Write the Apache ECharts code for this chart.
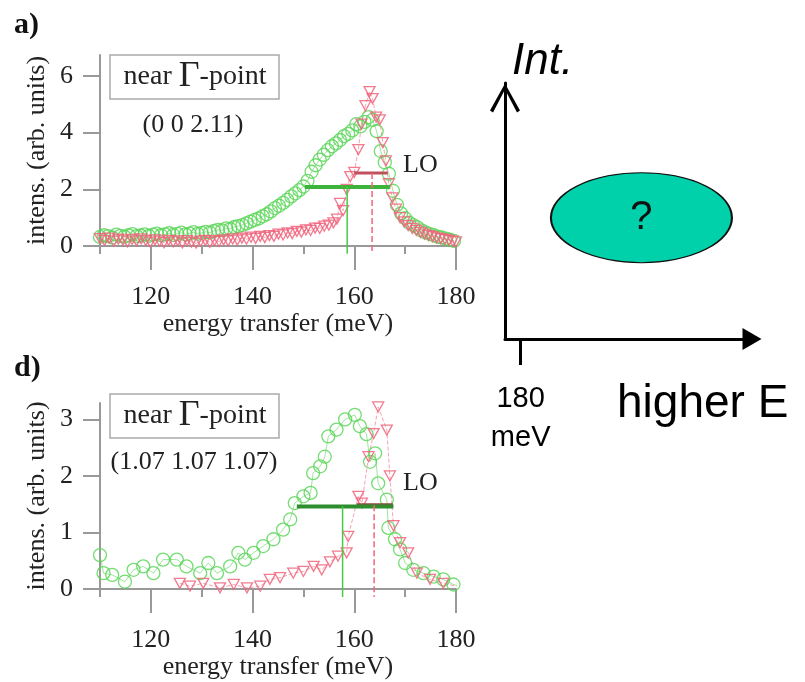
<!DOCTYPE html>
<html>
<head>
<meta charset="utf-8">
<script src="https://cdn.jsdelivr.net/npm/echarts@6/dist/echarts.min.js"></script>
<style>
  html, body { margin: 0; padding: 0; background: #fff; }
  #main { width: 805px; height: 682px; }
</style>
</head>
<body>
<div id="main"></div>
<script>
// panel a) near Gamma (0 0 2.11)
var energyGreenA = [110,110.8,111.6,112.4,113.2,114,114.8,115.6,116.4,117.2,118,118.8,119.6,120.4,121.2,122,122.8,123.6,124.4,125.2,126,126.8,127.6,128.4,129.2,130,130.8,131.6,132.4,133.2,134,134.8,135.6,136.4,137.2,138,138.8,139.6,140.4,141.2,142,142.8,143.6,144.4,145.2,146,146.8,147.6,148.4,149.2,150,150.8,151.6,152.4,153.2,154,154.8,155.6,156.4,157.2,158,158.8,159.6,160.4,161.2,162,162.8,163.6,164.4,165.2,166,166.8,167.6,168.4,169.2,170,170.8,171.6,172.4,173.2,174,174.8,175.6,176.4,177.2,178,178.8,179.6];
var intensGreenA = [0.32,0.38,0.35,0.30,0.40,0.36,0.33,0.38,0.42,0.35,0.37,0.41,0.36,0.40,0.44,0.38,0.41,0.45,0.39,0.43,0.47,0.41,0.44,0.49,0.43,0.46,0.50,0.47,0.53,0.57,0.55,0.62,0.60,0.67,0.70,0.74,0.80,0.86,0.92,0.97,1.05,1.12,1.22,1.34,1.42,1.52,1.63,1.75,1.86,1.97,2.10,2.30,2.62,2.85,3.05,3.22,3.38,3.52,3.62,3.74,3.88,3.96,4.08,4.30,4.22,4.38,4.55,4.45,4.05,3.35,2.95,2.55,1.95,1.45,1.15,0.98,0.82,0.74,0.66,0.55,0.48,0.43,0.38,0.33,0.30,0.26,0.22,0.18];
var energyRedA = [110,110.9,111.8,112.7,113.6,114.5,115.4,116.3,117.2,118.1,119,119.9,120.8,121.7,122.6,123.5,124.4,125.3,126.2,127.1,128,128.9,129.8,130.7,131.6,132.5,133.4,134.3,135.2,136.1,137,137.9,138.8,139.7,140.6,141.5,142.4,143.3,144.2,145.1,146,146.9,147.8,148.7,149.6,150.5,151.4,152.3,153.2,154.1,155,155.9,156.6,157.2,157.8,158.5,159.2,160,160.8,161.4,162.2,163,163.6,164.3,165,165.6,166.2,166.8,167.5,168.2,169,169.8,170.6,171.4,172.2,173,173.8,174.6,175.4,176.2,177,177.8,178.6,179.4,180];
var intensRedA = [0.26,0.20,0.28,0.17,0.24,0.21,0.15,0.23,0.18,0.25,0.19,0.14,0.22,0.17,0.12,0.20,0.15,0.18,0.11,0.19,0.14,0.10,0.17,0.20,0.13,0.19,0.16,0.22,0.18,0.25,0.21,0.28,0.24,0.31,0.27,0.34,0.30,0.37,0.34,0.42,0.39,0.46,0.44,0.52,0.49,0.57,0.55,0.63,0.62,0.70,0.74,0.82,0.95,1.50,1.25,2.00,2.45,2.60,3.40,4.30,4.95,5.45,5.20,4.55,4.45,3.65,3.00,2.20,1.70,1.30,1.00,0.85,0.72,0.62,0.55,0.48,0.42,0.37,0.33,0.29,0.26,0.23,0.20,0.17,0.15];

// panel d) near Gamma (1.07 1.07 1.07)
var energyGreenD = [110,110.7,112.4,114.9,116.6,118.5,120.5,122.4,125.1,127,129.7,131.3,133,135.6,137.2,138.5,140.2,142.1,144.1,146,147.4,148.3,150,151.4,151.9,153.3,154.2,154.9,156.5,158.2,160.1,161.1,162.4,163.1,164.1,164.7,166.4,166.7,168,169,170,171.6,173.6,175.6,177.5,179.5,180.9];
var intensGreenD = [0.60,0.28,0.25,0.13,0.34,0.40,0.28,0.52,0.52,0.40,0.28,0.46,0.28,0.40,0.64,0.52,0.64,0.76,0.88,1.05,1.23,1.52,1.64,1.70,2.05,2.17,2.34,2.70,2.82,3.00,3.08,2.88,2.74,2.25,2.40,1.87,1.58,1.08,0.88,0.70,0.46,0.34,0.28,0.22,0.17,0.08,0.05];
var energyRedD = [125.7,127.7,130.3,133.6,136.3,138.9,141.5,143.4,145.4,148,150,152,153.6,155.2,156.8,158.5,158.8,160.8,161.5,162.8,163.8,164.7,166.4,167,167.7,169,170.6,172.3,174.9,177.5,180.1];
var intensRedD = [0.10,0.05,0.10,0.02,0.08,0.02,0.05,0.17,0.20,0.28,0.31,0.40,0.34,0.48,0.58,0.64,0.93,1.64,1.52,2.34,2.75,3.22,2.81,2.00,1.12,0.82,0.64,0.28,0.17,0.10,0.05];

// half-maximum bars and peak positions
var fwhmGreenA = [150.3, 167.0], halfGreenA = 2.08, peakGreenA = 158.6;
var fwhmRedA = [160.0, 166.6], halfRedA = 2.58, peakRedA = 163.5;
var fwhmGreenD = [148.7, 167.7], halfGreenD = 1.46, peakGreenD = 157.7;
var fwhmRedD = [160.5, 167.6], halfRedD = 1.48, peakRedD = 163.9;
var axisFootA = -0.27, axisFootD = -0.14;

// tick labels
var xLabels = [120, 140, 160, 180];
var yLabelsA = [0, 2, 4, 6];
var yLabelsD = [0, 1, 2, 3];

// schematic: the unknown mode above 180 meV
var schemeEnergy = [195.4];
var schemeInt = [0.474];
var schemeTick = [180];

var serif = 'Liberation Serif';
var sans = 'Liberation Sans';
var green = '#5cd65a';
var red = '#f0647c';

function zip(xs, ys) {
  return xs.map(function (x, i) { return [x, ys[i]]; });
}

var chart = echarts.init(document.getElementById('main'));

function mainX(grid) {
  return {
    type: 'value', gridIndex: grid, position: 'bottom', min: 110, max: 180, interval: 10, offset: 8,
    axisLine: { lineStyle: { color: '#999', width: 2 } },
    axisTick: { length: 8, lineStyle: { color: '#999', width: 2 } },
    axisLabel: { customValues: xLabels, margin: 30, fontFamily: serif, fontSize: 26, color: '#222' },
    splitLine: { show: false },
    name: 'energy transfer (meV)', nameLocation: 'middle', nameGap: 54,
    nameTextStyle: { fontFamily: serif, fontSize: 26, color: '#222' }
  };
}
// longer ticks under the labelled values
function tickX(grid) {
  return {
    type: 'value', gridIndex: grid, position: 'bottom', min: 110, max: 180, interval: 10, offset: 8,
    axisLine: { show: false },
    axisTick: { customValues: xLabels, length: 16, lineStyle: { color: '#999', width: 2 } },
    axisLabel: { show: false },
    splitLine: { show: false }
  };
}
function mainY(grid, max, labels) {
  return {
    type: 'value', gridIndex: grid, min: 0, max: max,
    axisLine: { show: true, lineStyle: { color: '#999', width: 2 } },
    axisTick: { show: true, customValues: labels, length: 17, lineStyle: { color: '#999', width: 2 } },
    axisLabel: { customValues: labels, margin: 27, fontFamily: serif, fontSize: 26, color: '#222' },
    splitLine: { show: false },
    name: 'intens. (arb. units)', nameLocation: 'middle', nameGap: 50,
    nameTextStyle: { fontFamily: serif, fontSize: 26, color: '#222' }
  };
}

function dataSeries(xi, yi, data, color, symbol, size, dashed) {
  return {
    type: 'line', xAxisIndex: xi, yAxisIndex: yi, data: data,
    symbol: symbol, symbolSize: size, silent: true, animation: false,
    itemStyle: { color: 'rgba(0,0,0,0)', borderColor: color, borderWidth: 1.3, opacity: 0.85 },
    lineStyle: { color: color, width: 1, opacity: 0.6, type: dashed ? 'dashed' : 'solid' }
  };
}
function segSeries(xi, yi, data, color, width, dashed) {
  return {
    type: 'line', xAxisIndex: xi, yAxisIndex: yi, data: data, symbol: 'none',
    clip: false, silent: true, animation: false, z: 5,
    lineStyle: { color: color, width: width, type: dashed ? 'dashed' : 'solid' }
  };
}

var downTri = 'path://M0,0 L10,0 L5,9 Z';
var chevron = 'path://M0,27 L15,0 L30,27 L27,29 L15,6 L3,29 Z';

var option = {
  backgroundColor: '#fff',
  animation: false,
  grid: [
    { left: 100, right: 349, top: 55, bottom: 436 },
    { left: 100, right: 349, top: 403, bottom: 93 },
    { left: 505, right: 53, top: 83, bottom: 343 }
  ],
  xAxis: [
    mainX(0), tickX(0), mainX(1), tickX(1),
    {
      type: 'value', gridIndex: 2, min: 178, max: 209.5,
      axisLine: { symbol: ['none', 'triangle'], symbolSize: [22, 19], lineStyle: { color: '#000', width: 3 } },
      axisTick: { customValues: schemeTick, length: 26, lineStyle: { color: '#000', width: 3 } },
      axisLabel: {
        customValues: schemeTick, margin: 40, fontFamily: sans, fontSize: 29, lineHeight: 39, color: '#000',
        formatter: function (v) { return v + '\nmeV'; }
      },
      splitLine: { show: false }
    }
  ],
  yAxis: [
    mainY(0, 6.74, yLabelsA),
    mainY(1, 3.29, yLabelsD),
    {
      type: 'value', gridIndex: 2, min: 0, max: 1,
      axisLine: { show: true, symbol: ['none', chevron], symbolSize: [30, 30], symbolOffset: [0, -15], lineStyle: { color: '#000', width: 3 } },
      axisTick: { show: false }, axisLabel: { show: false }, splitLine: { show: false }
    }
  ],
  series: [
    dataSeries(0, 0, zip(energyGreenA, intensGreenA), green, 'circle', 13, false),
    dataSeries(0, 0, zip(energyRedA, intensRedA), red, downTri, [11, 10], true),
    segSeries(0, 0, [[fwhmRedA[0], halfRedA], [fwhmRedA[1], halfRedA]], '#c0505e', 3, false),
    segSeries(0, 0, [[fwhmGreenA[0], halfGreenA], [fwhmGreenA[1], halfGreenA]], '#3cb43c', 4, false),
    segSeries(0, 0, [[peakGreenA, halfGreenA], [peakGreenA, axisFootA]], '#44cc44', 1.5, false),
    segSeries(0, 0, [[peakRedA, halfRedA], [peakRedA, axisFootA]], '#f0647c', 1.5, true),

    dataSeries(2, 1, zip(energyGreenD, intensGreenD), green, 'circle', 13, false),
    dataSeries(2, 1, zip(energyRedD, intensRedD), red, downTri, [11, 10], true),
    segSeries(2, 1, [[fwhmRedD[0], halfRedD], [fwhmRedD[1], halfRedD]], '#8a4a3a', 4, false),
    segSeries(2, 1, [[fwhmGreenD[0], halfGreenD], [fwhmGreenD[1], halfGreenD]], '#2e8e2e', 4, false),
    segSeries(2, 1, [[peakGreenD, halfGreenD], [peakGreenD, axisFootD]], '#44cc44', 1.5, false),
    segSeries(2, 1, [[peakRedD, halfRedD], [peakRedD, axisFootD]], '#f0647c', 1.5, true),

    {
      type: 'scatter', xAxisIndex: 4, yAxisIndex: 2, data: zip(schemeEnergy, schemeInt),
      symbol: 'circle', symbolSize: [181, 90], silent: true,
      itemStyle: { color: '#00d1ab', borderColor: '#111', borderWidth: 1.5, opacity: 1 },
      label: { show: true, position: 'inside', formatter: '?', fontFamily: sans, fontSize: 40, color: '#111' }
    }
  ],
  graphic: [
    { type: 'text', left: 14, top: 10, style: { text: 'a)', font: 'bold 30px "Liberation Serif"', fill: '#111' } },
    { type: 'text', left: 14, top: 353, style: { text: 'd)', font: 'bold 30px "Liberation Serif"', fill: '#111' } },

    { type: 'rect', shape: { x: 110, y: 55, width: 169, height: 44 }, style: { fill: '#fff', stroke: '#aaa', lineWidth: 1.5 }, z: 10 },
    { type: 'text', x: 195, y: 77, z: 11, style: {
      text: '{n|near }{g|Γ}{n|-point}', align: 'center', verticalAlign: 'middle',
      rich: { n: { fontFamily: serif, fontSize: 28, fill: '#222' }, g: { fontFamily: serif, fontSize: 36, fill: '#222' } }
    } },
    { type: 'text', x: 193, y: 125, z: 11, style: { text: '(0 0 2.11)', align: 'center', verticalAlign: 'middle', font: '26px "Liberation Serif"', fill: '#222' } },
    { type: 'text', x: 403, y: 165, z: 11, style: { text: 'LO', verticalAlign: 'middle', font: '26px "Liberation Serif"', fill: '#222' } },

    { type: 'rect', shape: { x: 110, y: 394, width: 169, height: 44 }, style: { fill: '#fff', stroke: '#aaa', lineWidth: 1.5 }, z: 10 },
    { type: 'text', x: 195, y: 416, z: 11, style: {
      text: '{n|near }{g|Γ}{n|-point}', align: 'center', verticalAlign: 'middle',
      rich: { n: { fontFamily: serif, fontSize: 28, fill: '#222' }, g: { fontFamily: serif, fontSize: 36, fill: '#222' } }
    } },
    { type: 'text', x: 194, y: 462, z: 11, style: { text: '(1.07 1.07 1.07)', align: 'center', verticalAlign: 'middle', font: '26px "Liberation Serif"', fill: '#222' } },
    { type: 'text', x: 403, y: 483, z: 11, style: { text: 'LO', verticalAlign: 'middle', font: '26px "Liberation Serif"', fill: '#222' } },

    { type: 'text', x: 512, y: 62, style: { text: 'Int.', verticalAlign: 'middle', font: 'italic 44px "Liberation Sans"', fill: '#000' } },
    { type: 'text', x: 617, y: 404, style: { text: 'higher E', verticalAlign: 'middle', font: '46px "Liberation Sans"', fill: '#000' } }
  ]
};

chart.setOption(option);
</script>
</body>
</html>
